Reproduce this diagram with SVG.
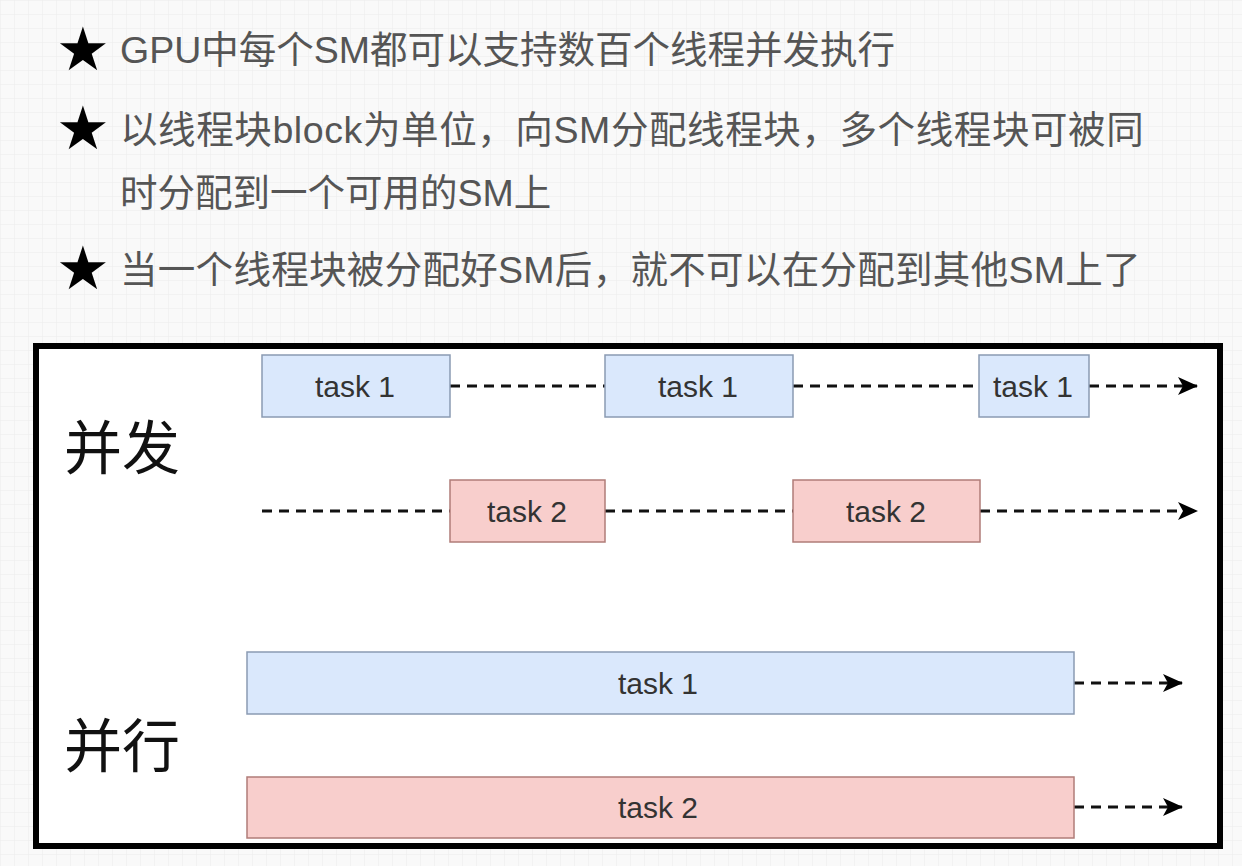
<svg xmlns="http://www.w3.org/2000/svg" width="1242" height="866" viewBox="0 0 1242 866">
<defs>
<pattern id="grid" width="14" height="14" patternUnits="userSpaceOnUse">
<path d="M14 0H0V14" fill="none" stroke="#ececec" stroke-width="1"/>
</pattern>
<marker id="arr" viewBox="0 0 20 18" refX="19" refY="9" markerWidth="20" markerHeight="18" markerUnits="userSpaceOnUse" orient="auto">
<path d="M0 0 L20 9 L0 18 L5 9 Z" fill="#000"/>
</marker>
<style>
.hd{font-family:"Liberation Sans","Noto Sans CJK SC",sans-serif;font-size:37.5px;fill:#555}
.star{font-family:"DejaVu Sans",sans-serif;font-size:60px;fill:#000}
.lbl{font-family:"Noto Sans CJK SC",sans-serif;font-size:58px;fill:#111}
.t1{fill:#dae8fc;stroke:#8a9bb3;stroke-width:1.5}
.t2{fill:#f8cecc;stroke:#b07c78;stroke-width:1.5}
.tt{font-family:"Liberation Sans",Arial,sans-serif;font-size:30px;fill:#333;text-anchor:middle}
.dl{stroke:#111;stroke-width:3;stroke-dasharray:10 7;fill:none}
</style>
</defs>
<rect width="1242" height="866" fill="#f9f9f9"/>
<rect width="1242" height="866" fill="url(#grid)"/>

<g id="header">
<text class="star" x="56" y="70">★</text>
<text class="hd" x="120" y="63">GPU中每个SM都可以支持数百个线程并发执行</text>
<text class="star" x="56" y="149">★</text>
<text class="hd" x="120" y="143" letter-spacing="0.6">以线程块block为单位，向SM分配线程块，多个线程块可被同</text>
<text class="hd" x="120" y="206">时分配到一个可用的SM上</text>
<text class="star" x="56" y="289">★</text>
<text class="hd" x="120" y="283" letter-spacing="0.3">当一个线程块被分配好SM后，就不可以在分配到其他SM上了</text>
</g>

<g id="frame">
<rect x="36" y="346" width="1184" height="500" fill="#fff" stroke="#000" stroke-width="6"/>
</g>

<g id="label-concurrent"><text class="lbl" x="64" y="469">并发</text></g>
<g id="label-parallel"><text class="lbl" x="64" y="767">并行</text></g>

<g id="connectors">
<line class="dl" x1="450" y1="386" x2="605" y2="386"/>
<line class="dl" x1="793" y1="386" x2="979" y2="386"/>
<line class="dl" x1="1089" y1="386" x2="1197" y2="386" marker-end="url(#arr)"/>
<line class="dl" x1="262" y1="511" x2="450" y2="511"/>
<line class="dl" x1="605" y1="511" x2="793" y2="511"/>
<line class="dl" x1="980" y1="511" x2="1197" y2="511" marker-end="url(#arr)"/>
<line class="dl" x1="1074" y1="683" x2="1182" y2="683" marker-end="url(#arr)"/>
<line class="dl" x1="1074" y1="807" x2="1182" y2="807" marker-end="url(#arr)"/>
</g>

<g id="c-task1-a"><rect class="t1" x="262" y="355" width="188" height="62"/><text class="tt" x="355" y="397">task 1</text></g>
<g id="c-task1-b"><rect class="t1" x="605" y="355" width="188" height="62"/><text class="tt" x="698" y="397">task 1</text></g>
<g id="c-task1-c"><rect class="t1" x="979" y="355" width="110" height="62"/><text class="tt" x="1033" y="397">task 1</text></g>
<g id="c-task2-a"><rect class="t2" x="450" y="480" width="155" height="62"/><text class="tt" x="527" y="522">task 2</text></g>
<g id="c-task2-b"><rect class="t2" x="793" y="480" width="187" height="62"/><text class="tt" x="886" y="522">task 2</text></g>
<g id="p-task1"><rect class="t1" x="247" y="652" width="827" height="62"/><text class="tt" x="658" y="694">task 1</text></g>
<g id="p-task2"><rect class="t2" x="247" y="777" width="827" height="61"/><text class="tt" x="658" y="818">task 2</text></g>
</svg>
